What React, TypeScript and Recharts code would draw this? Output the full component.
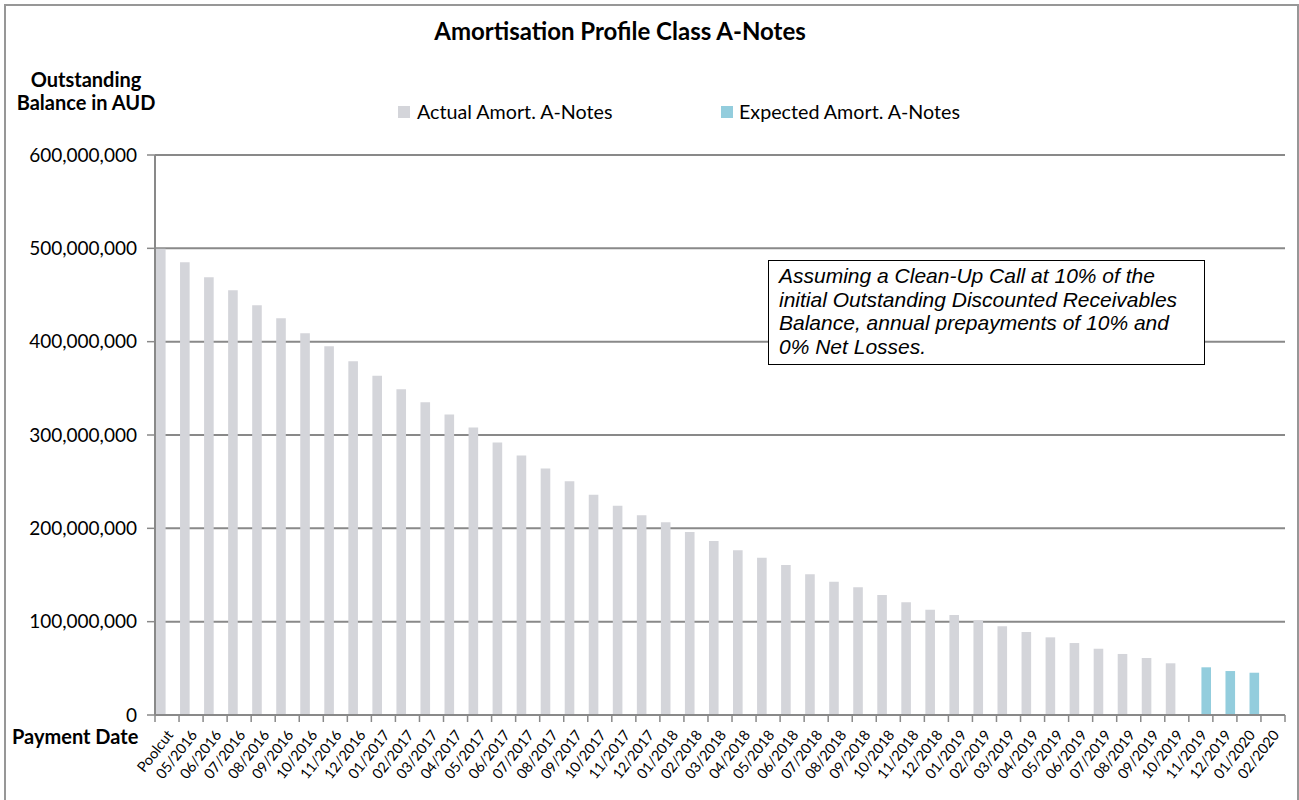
import React from 'react';
import { BarChart, Bar, XAxis, YAxis, CartesianGrid } from 'recharts';

const categories = [
  'Poolcut', '05/2016', '06/2016', '07/2016', '08/2016', '09/2016', '10/2016', '11/2016', '12/2016',
  '01/2017', '02/2017', '03/2017', '04/2017', '05/2017', '06/2017', '07/2017', '08/2017', '09/2017',
  '10/2017', '11/2017', '12/2017', '01/2018', '02/2018', '03/2018', '04/2018', '05/2018', '06/2018',
  '07/2018', '08/2018', '09/2018', '10/2018', '11/2018', '12/2018', '01/2019', '02/2019', '03/2019',
  '04/2019', '05/2019', '06/2019', '07/2019', '08/2019', '09/2019', '10/2019', '11/2019', '12/2019',
  '01/2020', '02/2020',
];

// Poolcut .. 10/2019
const actualAmort = [
  499500000, 485000000, 469000000, 455000000, 439000000, 425000000, 409000000, 395000000, 379000000,
  363500000, 349000000, 335000000, 322000000, 308000000, 292000000, 278000000, 264000000, 250400000,
  236000000, 224300000, 214000000, 206500000, 196000000, 186400000, 176400000, 168500000, 160700000,
  150700000, 142800000, 136800000, 128600000, 120700000, 112800000, 107100000, 101400000, 95000000,
  88900000, 83200000, 77100000, 71000000, 65400000, 61100000, 55400000,
];

const expectedDates = ['11/2019', '12/2019', '01/2020'];
const expectedAmort = [51100000, 47100000, 45300000];

const yTicks = [0, 100000000, 200000000, 300000000, 400000000, 500000000, 600000000];

const chartData = categories.map((date, i) => {
  const j = expectedDates.indexOf(date);
  return {
    date,
    actual: i < actualAmort.length ? actualAmort[i] : null,
    expected: j >= 0 ? expectedAmort[j] : null,
  };
});

const axisGrey = '#898989';
const actualColor = '#D4D5DA';
const expectedColor = '#93CDDD';

const fmt = (v: number) => String(v).replace(/\B(?=(\d{3})+(?!\d))/g, ',');

const DateTick = (props: any) => {
  const { x, y, payload, index } = props;
  const half = payload && payload.offset ? payload.offset : 12;
  const last = index === categories.length - 1;
  const tx = x + 3;
  const ty = y + 17;
  return (
    <g>
      <line x1={x - half} x2={x - half} y1={y} y2={y + 7} stroke={axisGrey} strokeWidth={1.5} />
      {last && <line x1={x + half} x2={x + half} y1={y} y2={y + 7} stroke={axisGrey} strokeWidth={1.5} />}
      <text
        x={tx}
        y={ty}
        dy="0.35em"
        textAnchor="end"
        transform={`rotate(-52, ${tx}, ${ty})`}
        fontSize={14.5}
        fontFamily="Lato, sans-serif"
        fill="#000"
      >
        {payload.value}
      </text>
    </g>
  );
};

const App = () => {
  return (
    <div
      style={{
        position: 'absolute',
        left: 0,
        top: 0,
        width: 1299,
        height: 800,
        overflow: 'hidden',
        background: '#fff',
        fontFamily: 'Lato, sans-serif',
      }}
    >
      <div
        style={{
          position: 'absolute',
          left: 4,
          top: 4,
          width: 1295,
          height: 820,
          border: '2px solid #979797',
          boxSizing: 'border-box',
        }}
      />
      <div style={{ position: 'absolute', left: 0, top: 0 }}>
        <BarChart
          width={1299}
          height={800}
          data={chartData}
          margin={{ top: 155, right: 14, left: 0, bottom: 0 }}
          barSize={9.6}
          barGap={2}
        >
          <CartesianGrid vertical={false} stroke={axisGrey} strokeWidth={2} />
          <XAxis
            dataKey="date"
            height={85}
            interval={0}
            tickSize={0}
            tickMargin={0}
            tickLine={false}
            axisLine={{ stroke: axisGrey, strokeWidth: 2 }}
            tick={<DateTick />}
          />
          <YAxis
            width={155}
            domain={[0, 600000000]}
            ticks={yTicks}
            interval={0}
            tickFormatter={fmt}
            tickSize={8}
            tickMargin={10}
            axisLine={{ stroke: axisGrey, strokeWidth: 2 }}
            tickLine={{ stroke: axisGrey, strokeWidth: 1.5 }}
            tick={{ fontSize: 19, fill: '#000', fontFamily: 'Lato, sans-serif' }}
          />
          <Bar dataKey="actual" fill={actualColor} isAnimationActive={false} />
          <Bar dataKey="expected" fill={expectedColor} isAnimationActive={false} />
        </BarChart>
      </div>

      <div
        style={{
          position: 'absolute',
          left: 0,
          top: 16,
          width: 1240,
          textAlign: 'center',
          fontWeight: 700,
          fontSize: 24,
        }}
      >
        Amortisation Profile Class A-Notes
      </div>

      <div
        style={{
          position: 'absolute',
          left: 0,
          top: 68,
          width: 172,
          textAlign: 'center',
          fontWeight: 700,
          fontSize: 20,
          lineHeight: '22.5px',
        }}
      >
        Outstanding
        <br />
        Balance in AUD
      </div>

      <div style={{ position: 'absolute', left: 12, top: 724, fontWeight: 700, fontSize: 20 }}>Payment Date</div>

      <div style={{ position: 'absolute', left: 398, top: 100, display: 'flex', alignItems: 'center', fontSize: 19.7 }}>
        <span style={{ width: 12, height: 12, background: actualColor, display: 'inline-block', marginRight: 7 }} />
        <span>Actual Amort. A-Notes</span>
      </div>
      <div style={{ position: 'absolute', left: 721, top: 100, display: 'flex', alignItems: 'center', fontSize: 19.7 }}>
        <span style={{ width: 12, height: 12, background: expectedColor, display: 'inline-block', marginRight: 6 }} />
        <span>Expected Amort. A-Notes</span>
      </div>

      <div
        style={{
          position: 'absolute',
          left: 768,
          top: 260,
          width: 437,
          height: 105,
          boxSizing: 'border-box',
          border: '1.5px solid #000',
          background: '#fff',
          padding: '3px 0 0 10px',
          fontFamily: '"Liberation Sans", Arial, sans-serif',
          fontStyle: 'italic',
          fontSize: 21,
          lineHeight: '23.7px',
          whiteSpace: 'nowrap',
        }}
      >
        Assuming a Clean-Up Call at 10% of the
        <br />
        initial Outstanding Discounted Receivables
        <br />
        Balance, annual prepayments of 10% and
        <br />
        0% Net Losses.
      </div>
    </div>
  );
};

export default App;
